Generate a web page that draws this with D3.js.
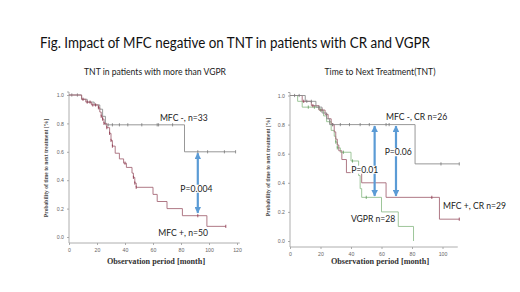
<!DOCTYPE html>
<html>
<head>
<meta charset="utf-8">
<script src="https://cdn.jsdelivr.net/npm/d3@7"></script>
<style>
  body { margin: 0; background: #fff; }
  svg { display: block; }
</style>
</head>
<body>
<script>
const WIDTH = 520;
const HEIGHT = 292;

// left panel: MFC - / MFC + (more than VGPR)
const leftNegTimes = [0, 9, 13, 18, 22, 24, 26, 82.5];
const leftNegSurv = [1.0, 0.97, 0.95, 0.93, 0.9, 0.85, 0.79, 0.6];
const leftNegEnd = 119;
const leftNegCensor = [2, 6, 28, 31, 36, 42, 52, 63, 64, 74, 92, 99, 111, 119];

const leftPosTimes = [0, 9, 12, 16, 21, 22, 23, 24, 25, 27, 29, 30, 31, 33, 36, 39, 41, 45, 46, 47, 48, 60, 63, 70, 81, 98.5];
const leftPosSurv = [1.0, 0.97, 0.95, 0.93, 0.91, 0.88, 0.85, 0.83, 0.8, 0.77, 0.73, 0.68, 0.64, 0.59, 0.55, 0.52, 0.49, 0.45, 0.42, 0.38, 0.35, 0.3, 0.25, 0.2, 0.15, 0.075];
const leftPosEnd = 112;
const leftPosCensor = [10, 13, 15, 17, 19, 21, 23, 24, 25, 27, 29, 30, 31, 40, 46, 47, 48, 92, 112];

// right panel: MFC - CR / MFC + CR / VGPR
const rightNegTimes = [0, 10, 17, 21, 24, 26, 82];
const rightNegSurv = [1.0, 0.96, 0.92, 0.88, 0.84, 0.8, 0.53];
const rightNegEnd = 111;
const rightNegCensor = [3, 6, 11, 14, 19, 28, 33, 39, 46, 52, 63, 65, 99, 111];

const rightPosTimes = [0, 8, 14, 19, 23, 25, 27, 29, 30, 31, 32, 34, 37, 47, 63, 98];
const rightPosSurv = [1.0, 0.96, 0.93, 0.9, 0.87, 0.84, 0.8, 0.75, 0.7, 0.66, 0.62, 0.56, 0.47, 0.4, 0.3, 0.15];
const rightPosEnd = 111;
const rightPosCensor = [9, 15, 21, 24, 28, 93, 111];

const vgprTimes = [0, 5, 8, 19, 22, 24, 27, 29, 30, 31, 33, 40, 45, 46, 47, 60, 71, 81];
const vgprSurv = [1.0, 0.96, 0.92, 0.9, 0.86, 0.82, 0.76, 0.72, 0.68, 0.64, 0.61, 0.55, 0.45, 0.36, 0.3, 0.2, 0.1, 0.0];
const vgprEnd = 81;
const vgprCensor = [12, 16, 20, 26, 30, 31, 35, 41, 50];

const yTicks = [0, 0.2, 0.4, 0.6, 0.8, 1.0];
const leftXTicks = [0, 20, 40, 60, 80, 100, 120];
const rightXTicks = [0, 20, 40, 60, 80, 100];

const GRAY = "#8c8c8c";
const RED = "#a66a78";
const GREEN = "#93bf8f";
const BLUE = "#5b9bd5";

const svg = d3.select("body")
              .append("svg")
              .attr("width", WIDTH)
              .attr("height", HEIGHT);

const defs = svg.append("defs");
defs.append("marker")
    .attr("id", "head")
    .attr("viewBox", "0 0 10 10")
    .attr("refX", 9)
    .attr("refY", 5)
    .attr("markerWidth", 3)
    .attr("markerHeight", 3)
    .attr("markerUnits", "strokeWidth")
    .attr("orient", "auto-start-reverse")
    .append("path")
    .attr("d", "M0,0L10,5L0,10Z")
    .attr("fill", BLUE);

svg.append("text")
   .attr("x", 40)
   .attr("y", 48)
   .attr("font-family", "Lato, 'Open Sans', sans-serif")
   .attr("font-size", 15.5)
   .attr("textLength", 390)
   .attr("lengthAdjust", "spacingAndGlyphs")
   .attr("fill", "#111")
   .text("Fig. Impact of MFC negative on TNT in patients with CR and VGPR");

const makeSteps = (times, surv, end) => {
  const pts = times.map((t, i) => [t, surv[i]]);
  pts.push([end, surv[surv.length - 1]]);
  return pts;
};

const survAt = (times, surv, t) => {
  let v = surv[0];
  times.forEach((tt, i) => { if (tt <= t) v = surv[i]; });
  return v;
};

const drawPanel = (cfg) => {
  const x = d3.scaleLinear().domain([0, cfg.xMax]).range(cfg.xRange);
  const y = d3.scaleLinear().domain([0, 1]).range(cfg.yRange);
  const g = svg.append("g");

  // title
  g.append("text")
   .attr("x", cfg.titleX)
   .attr("y", 75)
   .attr("text-anchor", "middle")
   .attr("font-family", "Lato, 'Open Sans', sans-serif")
   .attr("font-size", 8.6)
   .attr("fill", "#222")
   .text(cfg.title);

  // axes
  const xAxis = d3.axisBottom(x).tickValues(cfg.xTicks).tickSize(2).tickPadding(3);
  const yAxis = d3.axisLeft(y).tickValues(yTicks).tickSize(2).tickPadding(3).tickFormat(d3.format(".1f"));

  const xg = g.append("g")
              .attr("transform", "translate(0," + cfg.xAxisY + ")")
              .call(xAxis);
  const yg = g.append("g")
              .attr("transform", "translate(" + cfg.xRange[0] + ",0)")
              .call(yAxis);
  yg.select(".domain").attr("d", "M-2," + (cfg.yRange[1] - 3) + "H0V" + cfg.xAxisY);
  xg.select(".domain").attr("d", "M" + cfg.xRange[0] + ",0H" + x(cfg.axisEnd) );
  [xg, yg].forEach(a => {
    a.selectAll("path, line").attr("stroke", "#999").attr("stroke-width", 0.8);
    a.selectAll("text").attr("font-size", 5.2).attr("fill", "#666").attr("font-family", "Arial, sans-serif");
  });

  // axis titles
  g.append("text")
   .attr("x", cfg.axisTitleX)
   .attr("y", 264)
   .attr("text-anchor", "middle")
   .attr("font-family", "'Liberation Serif', 'DejaVu Serif', serif")
   .attr("font-weight", "bold")
   .attr("font-size", 8.2)
   .attr("fill", "#333")
   .text("Observation period  [month]");

  g.append("text")
   .attr("transform", "translate(" + cfg.yTitleX + "," + cfg.yTitleY + ") rotate(-90)")
   .attr("text-anchor", "middle")
   .attr("font-family", "'Liberation Serif', 'DejaVu Serif', serif")
   .attr("font-weight", "bold")
   .attr("font-size", 5.6)
   .attr("fill", "#444")
   .text("Probability of  time to next treatment [%]");

  // curves
  const line = d3.line()
                 .x(d => x(d[0]))
                 .y(d => y(d[1]))
                 .curve(d3.curveStepAfter);

  cfg.curves.forEach(c => {
    g.append("path")
     .datum(makeSteps(c.times, c.surv, c.end))
     .attr("fill", "none")
     .attr("stroke", c.color)
     .attr("stroke-width", 0.9)
     .attr("d", line);

    g.selectAll(null)
     .data(c.censor)
     .join("line")
     .attr("x1", d => x(d))
     .attr("x2", d => x(d))
     .attr("y1", d => y(survAt(c.times, c.surv, d)) - 1.6)
     .attr("y2", d => y(survAt(c.times, c.surv, d)) + 1.6)
     .attr("stroke", c.censorColor)
     .attr("stroke-width", 0.8);
  });

  // arrows
  cfg.arrows.forEach(a => {
    g.append("line")
     .attr("x1", x(a.t))
     .attr("x2", x(a.t))
     .attr("y1", y(a.from))
     .attr("y2", y(a.to))
     .attr("stroke", BLUE)
     .attr("stroke-width", 2.2)
     .attr("marker-start", "url(#head)")
     .attr("marker-end", "url(#head)");
  });

  // labels
  cfg.labels.forEach(l => {
    const t = g.append("text")
               .attr("x", x(l.t))
               .attr("y", y(l.v))
               .attr("dy", "0.35em")
               .attr("text-anchor", "middle")
               .attr("font-family", "Lato, 'Open Sans', sans-serif")
               .attr("font-size", 8.6)
               .attr("fill", "#222")
               .text(l.text);
    if (l.bg) {
      const b = t.node().getBBox();
      g.insert("rect", function () { return t.node(); })
       .attr("x", b.x - 0.5)
       .attr("y", b.y + 1)
       .attr("width", b.width + 1)
       .attr("height", b.height - 2)
       .attr("fill", "#fff");
    }
  });
};

drawPanel({
  title: "TNT in patients with more than VGPR",
  titleX: 155,
  xMax: 120,
  xRange: [69, 237],
  yRange: [237, 95],
  xAxisY: 243,
  axisEnd: 122,
  xTicks: leftXTicks,
  axisTitleX: 156,
  yTitleX: 48,
  yTitleY: 168,
  curves: [
    {times: leftNegTimes, surv: leftNegSurv, end: leftNegEnd, censor: leftNegCensor, color: GRAY, censorColor: "#777"},
    {times: leftPosTimes, surv: leftPosSurv, end: leftPosEnd, censor: leftPosCensor, color: RED, censorColor: "#8a3048"}
  ],
  arrows: [{t: 92, from: 0.59, to: 0.17}],
  labels: [
    {t: 82, v: 0.835, text: "MFC -, n=33", bg: false},
    {t: 91, v: 0.34, text: "P=0.004", bg: true},
    {t: 81.5, v: 0.03, text: "MFC +, n=50", bg: true}
  ]
});

drawPanel({
  title: "Time to Next Treatment(TNT)",
  titleX: 380,
  xMax: 100,
  xRange: [290, 442.5],
  yRange: [241, 95.5],
  xAxisY: 247,
  axisEnd: 110,
  xTicks: rightXTicks,
  axisTitleX: 380,
  yTitleX: 270,
  yTitleY: 167,
  curves: [
    {times: vgprTimes, surv: vgprSurv, end: vgprEnd, censor: vgprCensor, color: GREEN, censorColor: "#5f9a5a"},
    {times: rightPosTimes, surv: rightPosSurv, end: rightPosEnd, censor: rightPosCensor, color: RED, censorColor: "#8a3048"},
    {times: rightNegTimes, surv: rightNegSurv, end: rightNegEnd, censor: rightNegCensor, color: GRAY, censorColor: "#777"}
  ],
  arrows: [
    {t: 55.5, from: 0.79, to: 0.31},
    {t: 69.5, from: 0.79, to: 0.31}
  ],
  labels: [
    {t: 83, v: 0.855, text: "MFC -, CR n=26", bg: false},
    {t: 71, v: 0.61, text: "P=0.06", bg: true},
    {t: 49, v: 0.49, text: "P=0.01", bg: true},
    {t: 121, v: 0.24, text: "MFC +, CR n=29", bg: true},
    {t: 54.5, v: 0.15, text: "VGPR n=28", bg: true}
  ]
});
</script>
</body>
</html>
